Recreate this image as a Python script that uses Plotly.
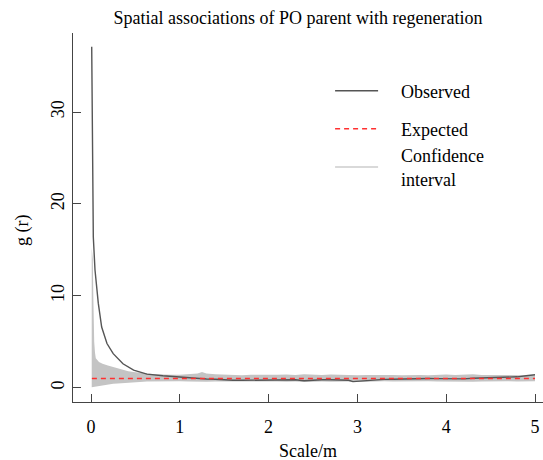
import plotly.graph_objects as go

# ---- data ----
obs_r = [0.008, 0.012, 0.019, 0.02, 0.026, 0.045, 0.082, 0.12, 0.18, 0.25, 0.36, 0.48, 0.63, 0.81,
         1.0, 1.1, 1.2, 1.3, 1.4, 1.5, 1.6, 1.7, 1.8, 1.9, 2.0, 2.1, 2.2, 2.3, 2.4, 2.5, 2.6, 2.7,
         2.8, 2.9, 2.95, 3.0, 3.1, 3.2, 3.3, 3.4, 3.5, 3.6, 3.7, 3.8, 3.9, 4.0, 4.1, 4.2, 4.3,
         4.4, 4.5, 4.6, 4.7, 4.8, 4.9, 5.0]
obs_g = [37.1, 28.4, 28.0, 17.2, 16.4, 12.8, 9.2, 6.6, 4.8, 3.7, 2.6, 1.9, 1.47, 1.29,
         1.15, 1.05, 1.0, 0.95, 0.92, 0.82, 0.8, 0.8, 0.82, 0.82, 0.84, 0.85, 0.84, 0.86, 0.76,
         0.85, 0.86, 0.86, 0.84, 0.8, 0.66, 0.7, 0.82, 0.86, 0.9, 0.92, 0.95, 0.98, 1.0, 1.0,
         0.98, 0.95, 0.98, 0.96, 1.02, 1.05, 1.06, 1.08, 1.08, 1.18, 1.3, 1.4]

band_r = [0.008, 0.02, 0.026, 0.03, 0.036, 0.045, 0.054, 0.09, 0.13, 0.19, 0.25, 0.3, 0.36, 0.42,
          0.48, 0.55, 0.63, 0.72, 0.81, 0.9, 1.0, 1.1, 1.2, 1.25, 1.3, 1.4, 1.5, 1.6, 1.7, 1.8,
          1.9, 2.0, 2.1, 2.2, 2.3, 2.4, 2.5, 2.6, 2.7, 2.8, 2.9, 3.0, 3.1, 3.2, 3.3, 3.4, 3.5,
          3.6, 3.7, 3.8, 3.9, 4.0, 4.1, 4.2, 4.3, 4.4, 4.5, 4.6, 4.7, 4.8, 4.9, 5.0]
band_hi = [15.2, 14.0, 10.0, 7.0, 5.0, 3.8, 3.2, 2.8, 2.6, 2.4, 2.25, 2.05, 1.9, 1.8,
           1.7, 1.6, 1.53, 1.47, 1.42, 1.4, 1.4, 1.45, 1.55, 1.7, 1.55, 1.45, 1.4, 1.38, 1.35,
           1.4, 1.38, 1.35, 1.4, 1.42, 1.38, 1.45, 1.4, 1.38, 1.42, 1.38, 1.4, 1.35, 1.38, 1.4,
           1.36, 1.38, 1.35, 1.4, 1.38, 1.36, 1.4, 1.42, 1.38, 1.4, 1.45, 1.38, 1.36, 1.38,
           1.35, 1.38, 1.36, 1.35]
band_lo = [0.05, 0.07, 0.1, 0.11, 0.12, 0.14, 0.16, 0.22, 0.27, 0.35, 0.42, 0.46, 0.52, 0.56,
           0.6, 0.63, 0.66, 0.68, 0.7, 0.7, 0.7, 0.68, 0.62, 0.6, 0.64, 0.68, 0.66, 0.68, 0.7,
           0.66, 0.68, 0.7, 0.66, 0.64, 0.68, 0.62, 0.66, 0.68, 0.64, 0.68, 0.66, 0.62, 0.66,
           0.68, 0.7, 0.68, 0.7, 0.66, 0.68, 0.7, 0.68, 0.66, 0.7, 0.68, 0.64, 0.68, 0.7, 0.68,
           0.7, 0.68, 0.7, 0.7]

exp_r = [0.01, 5.0]
exp_g = [1, 1]

x_ticks = [0, 1, 2, 3, 4, 5]
y_ticks = [0, 10, 20, 30]

title_text = "Spatial associations of PO parent with regeneration"
x_title = "Scale/m"
y_title = "g (r)"
names = ["Observed", "Expected", "Confidence<br>interval"]

FONT = "Liberation Serif, Times New Roman, serif"
AX = "#444444"
PAD = "\u00a0\u00a0\u00a0\u00a0"

fig = go.Figure()
fig.add_trace(go.Scatter(x=band_r, y=band_lo, mode="lines", line=dict(width=0, color="#c4c4c4"),
                         showlegend=False, hoverinfo="skip"))
fig.add_trace(go.Scatter(x=band_r, y=band_hi, mode="lines", line=dict(width=0, color="#c4c4c4"),
                         fill="tonexty", fillcolor="#c4c4c4", showlegend=False, hoverinfo="skip"))
fig.add_trace(go.Scatter(x=obs_r, y=obs_g, mode="lines", name=PAD + names[0], legend="legend",
                         line=dict(color="#555555", width=1.4)))
fig.add_trace(go.Scatter(x=exp_r, y=exp_g, mode="lines", name=PAD + names[1], legend="legend2",
                         line=dict(color="#ff3030", width=1.5, dash="5px,4px")))
fig.add_trace(go.Scatter(x=[None], y=[None], mode="lines",
                         name=PAD + names[2].replace("<br>", "<br>" + PAD), legend="legend3",
                         line=dict(color="#cccccc", width=1.5)))

W, H = 543, 460
L, R, T, B = 73, 0, 33, 58
PH = H - T - B


def py(p):
    return (H - B - p) / PH


leg_common = dict(x=0.547, xanchor="left", yanchor="middle", bgcolor="rgba(0,0,0,0)",
                  font=dict(family=FONT, size=18, color="black"), itemwidth=43)

fig.update_layout(
    width=W, height=H,
    margin=dict(l=L, r=R, t=T, b=B, pad=0),
    paper_bgcolor="white", plot_bgcolor="white",
    font=dict(family=FONT, size=18, color="black"),
    title=dict(text=title_text, x=(298 - L) / (W - L - R), xref="paper", xanchor="center",
               y=1 - 18 / H, yref="container", yanchor="middle",
               font=dict(family=FONT, size=18, color="black")),
    xaxis=dict(range=[-0.2027, 5.09], tickvals=x_ticks, ticktext=[str(v) for v in x_ticks],
               showline=True, linecolor=AX, linewidth=1, ticks="inside", ticklen=8,
               tickcolor=AX, tickwidth=1, showgrid=False, zeroline=False,
               ticklabelstandoff=8, tickfont=dict(family=FONT, size=18, color="black")),
    yaxis=dict(range=[-1.56, 38.6], tickvals=y_ticks, ticktext=[str(v) for v in y_ticks],
               showline=True, linecolor=AX, linewidth=1, ticks="inside", ticklen=8,
               tickcolor=AX, tickwidth=1, showgrid=False, zeroline=False, tickangle=-90,
               ticklabelstandoff=1, tickfont=dict(family=FONT, size=18, color="black")),
    legend=dict(y=py(91), **leg_common),
    legend2=dict(y=py(129), **leg_common),
    legend3=dict(y=py(167), **leg_common),
    annotations=[
        dict(text=x_title, xref="paper", yref="paper", x=0.5, y=-(451 - (H - B)) / PH,
             xanchor="center", yanchor="middle", showarrow=False,
             font=dict(family=FONT, size=18, color="black")),
        dict(text=y_title, xref="paper", yref="paper", x=(22 - L) / (W - L - R),
             y=py(231), xanchor="center", yanchor="middle",
             textangle=-90, showarrow=False, font=dict(family=FONT, size=18, color="black")),
    ],
)

fig.write_html("out.html", config={"displayModeBar": False},
               post_script="document.body.style.margin='0';")
